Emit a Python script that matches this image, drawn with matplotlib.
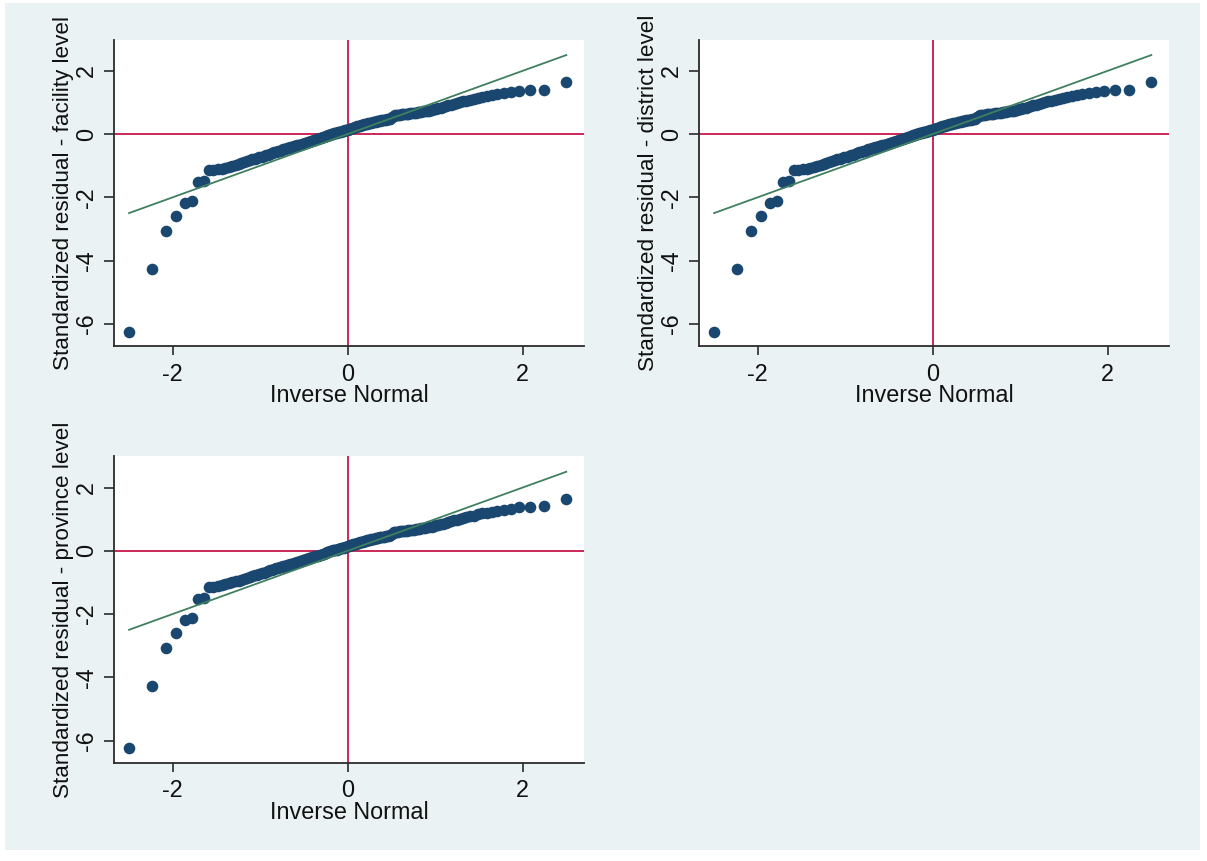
import matplotlib
matplotlib.use('Agg')
import matplotlib.pyplot as plt
from matplotlib.patches import Rectangle
from statistics import NormalDist

# ---------------- data (sorted standardized residuals) -------------
residuals = [
    -6.25, -4.26, -3.08, -2.60, -2.18, -2.13, -1.51, -1.49,
    -1.15, -1.13, -1.11, -1.09, -1.06, -1.03, -1.00, -0.97, -0.94, -0.91, -0.88, -0.85,
    -0.83, -0.80, -0.78, -0.76, -0.74, -0.71, -0.69, -0.67, -0.65, -0.62,
    -0.60, -0.58, -0.56, -0.54, -0.52, -0.50, -0.485, -0.47, -0.45, -0.44,
    -0.42, -0.41, -0.39, -0.38, -0.36, -0.35, -0.33, -0.32, -0.30, -0.29,
    -0.27, -0.26, -0.24, -0.23, -0.21, -0.20, -0.18, -0.17, -0.15, -0.13,
    -0.12, -0.10, -0.09, -0.07, -0.05, -0.04, -0.02, -0.006, 0.01, 0.02,
    0.03, 0.04, 0.05, 0.07, 0.08, 0.09, 0.10, 0.12, 0.13, 0.14,
    0.15, 0.17, 0.18, 0.20, 0.21, 0.22, 0.24, 0.25, 0.27, 0.28,
    0.29, 0.31, 0.32, 0.33, 0.34, 0.35, 0.36, 0.37, 0.38, 0.39,
    0.40, 0.41, 0.42, 0.43, 0.44, 0.45, 0.46, 0.47, 0.475, 0.49,
    0.53, 0.58, 0.59, 0.60, 0.60, 0.61, 0.62, 0.625, 0.63, 0.64,
    0.65, 0.655, 0.66, 0.67, 0.68, 0.69, 0.70, 0.71, 0.72, 0.73,
    0.74, 0.745, 0.76, 0.78, 0.80, 0.82, 0.84, 0.86, 0.89, 0.91,
    0.93, 0.96, 0.98, 1.01, 1.04, 1.06, 1.09, 1.11, 1.15, 1.18,
    1.20, 1.23, 1.27, 1.30, 1.32, 1.37, 1.39, 1.40, 1.64,
]
facility_resid = residuals
district_resid = residuals
province_resid = residuals

panel_ylabels = [
    "Standardized residual - facility level",
    "Standardized residual - district level",
    "Standardized residual - province level",
]
xlabel_text = "Inverse Normal"
x_ticks = [-2, 0, 2]
y_ticks = [-6, -4, -2, 0, 2]
ref_mean = 0.0   # mean of the residuals (reference line intercept)
ref_sd = 1.0     # sd of the residuals (reference line slope)

# ---------------- style ----------------
plt.rcParams['font.family'] = ['Liberation Sans', 'DejaVu Sans']
NAVY = '#1A476F'
RED = '#C8174A'
GREEN = '#3F8060'
BG = '#EAF2F3'
AXC = '#2b2b2b'
FS = 16.8
FS_Y = 16.2

W, H = 1207, 861
fig = plt.figure(figsize=(W / 100, H / 100), dpi=100, facecolor='white')
fig.patches.append(Rectangle((4.6 / W, 1 - 850 / H), (1200 - 4.6) / W, (850 - 3) / H,
                             transform=fig.transFigure, facecolor=BG, edgecolor='none',
                             zorder=-10))

pw, ph = 470 / W, 306.5 / H
positions = [
    (114 / W, 1 - 346 / H),
    (699 / W, 1 - 346 / H),
    (114 / W, 1 - 762.7 / H),
]
series = [facility_resid, district_resid, province_resid]

for (l, b), resid, ylab in zip(positions, series, panel_ylabels):
    n = len(resid)
    nd = NormalDist()
    xq = [nd.inv_cdf(i / (n + 1)) for i in range(1, n + 1)]
    ax = fig.add_axes([l, b, pw, ph])
    ax.set_facecolor('white')
    ax.axhline(0, color=RED, lw=1.3, zorder=2)
    ax.axvline(0, color=RED, lw=1.3, zorder=2)
    ax.scatter(xq, sorted(resid), s=70, color=NAVY, linewidths=0, zorder=3)
    ax.plot([xq[0], xq[-1]], [ref_mean + ref_sd * xq[0], ref_mean + ref_sd * xq[-1]],
            color=GREEN, lw=1.3, zorder=4)
    ax.set_xlim(-2.67, 2.70)
    ax.set_ylim(-6.70, 2.99)
    for s in ('top', 'right'):
        ax.spines[s].set_visible(False)
    for s in ('left', 'bottom'):
        ax.spines[s].set_color(AXC)
        ax.spines[s].set_linewidth(1.3)
    ax.set_xticks(x_ticks)
    ax.set_yticks(y_ticks)
    ax.set_xticklabels([str(t) for t in x_ticks])
    ax.set_yticklabels([str(t) for t in y_ticks], rotation=90, va='center')
    ax.tick_params(axis='x', length=6.5, width=1.2, color=AXC, labelsize=FS, pad=5.5,
                   labelcolor='#111111')
    ax.tick_params(axis='y', length=7.5, width=1.2, color=AXC, labelsize=FS, pad=4,
                   labelcolor='#111111')
    ax.set_xlabel(xlabel_text, fontsize=FS, labelpad=-1, color='#111111')
    ax.set_ylabel(ylab, fontsize=FS_Y, labelpad=0.5, color='#111111')

fig.savefig('out.png', dpi=100, facecolor='white')
